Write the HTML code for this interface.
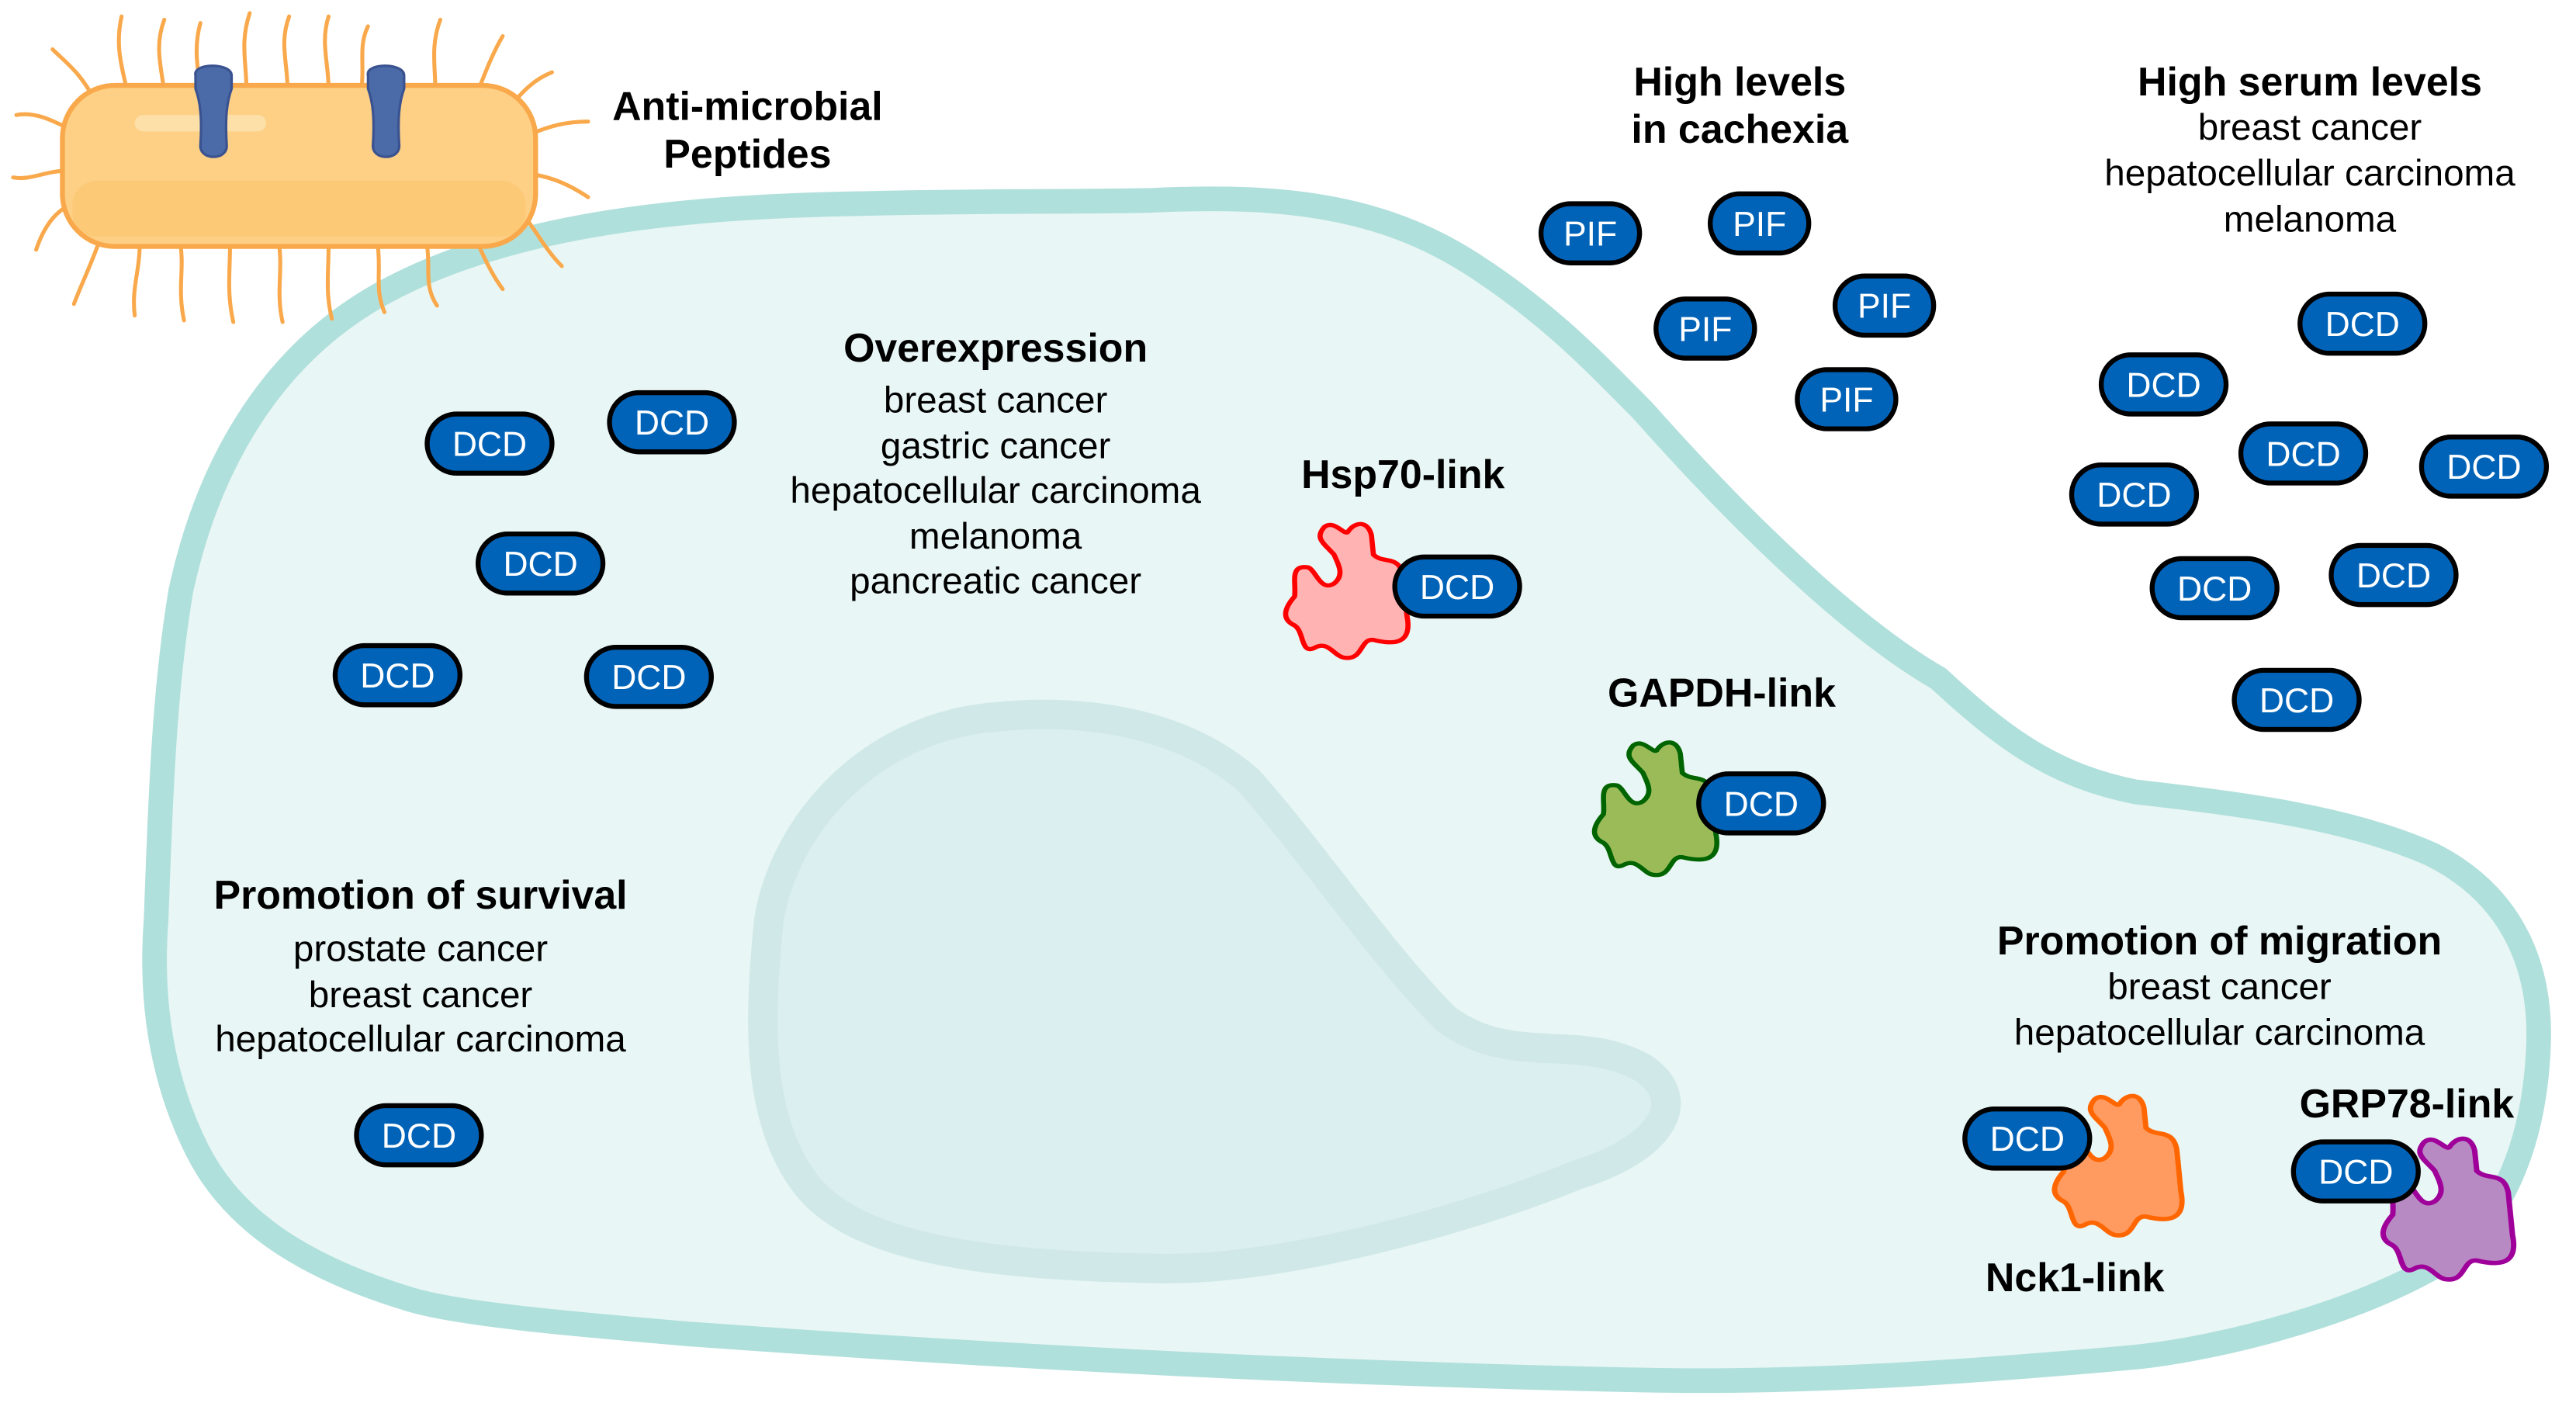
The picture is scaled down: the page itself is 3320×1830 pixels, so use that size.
<!DOCTYPE html>
<html><head><meta charset="utf-8"><style>
html,body{margin:0;padding:0;background:#fff}
svg{display:block}
text{font-family:"Liberation Sans",Arial,sans-serif}
.b{font-weight:bold;font-size:24.5px;fill:#000;text-anchor:middle}
.n{font-size:22.5px;fill:#000;text-anchor:middle}
.pill rect{fill:#0063b8;stroke:#000;stroke-width:3}
.pill text{fill:#fff;font-size:21px;text-anchor:middle}
.hair{fill:none;stroke:#f9a94b;stroke-width:2.4;stroke-linecap:round}
</style></head><body>
<svg width="3320" height="1830" viewBox="0 0 1568 864.3" preserveAspectRatio="none" xmlns="http://www.w3.org/2000/svg">
<defs>
<g id="dcd" class="pill"><rect x="-38" y="-18" width="76" height="36" rx="18"/><text x="0" y="7.5">DCD</text></g>
<g id="pif" class="pill"><rect x="-30" y="-18" width="60" height="36" rx="18"/><text x="0" y="7.5">PIF</text></g>
<path id="blob" d="M20,5 C25,0 30,10 32,8 C35,2 42,0 44,10 L45,22 C50,28 58,22 60,35 L62,60 C65,78 55,78 45,75 C38,74 40,88 30,86 C25,85 22,75 15,80 C8,84 10,70 5,66 C-2,62 0,55 5,48 C6,40 2,28 12,30 C16,32 18,45 25,40 C30,35 28,30 25,22 C20,15 15,12 20,5 Z"/>
</defs>

<!-- cell -->
<path d="M700,122 C780,118 840,125 895,160 C945,192 975,225 1000,250 C1080,340 1140,390 1180,413 C1220,450 1250,472 1300,482 C1370,490 1430,498 1480,520 C1530,545 1548,590 1545,640 C1542,700 1520,750 1480,772 C1420,805 1340,822 1300,826 C1200,835 1100,842 1000,840 C800,836 600,825 420,812 C350,806 280,800 250,791 C180,770 140,740 120,700 C95,650 92,600 95,560 C98,480 100,420 110,360 C125,290 160,220 230,180 C310,135 420,126 520,124 C600,122 650,123 700,122 Z" fill="#e8f6f5" stroke="#b0e0dc" stroke-width="15"/>
<!-- nucleus -->
<path d="M600,437 C660,430 720,440 760,475 C800,520 840,580 880,620 C920,650 960,628 1000,650 C1030,670 1010,700 960,715 C900,740 780,775 700,772 C600,770 520,760 490,720 C460,680 462,620 468,560 C478,500 530,445 600,437 Z" fill="#dbeff0" stroke="#d0e9e8" stroke-width="18"/>

<!-- bacterium -->
<g>
<path class="hair" d="M58,62 C50,45 40,38 32,30 M78,58 C74,40 70,28 74,10 M100,56 C98,40 94,28 100,12 M122,54 C120,40 118,28 122,14 M150,54 C150,38 146,26 152,8 M175,54 C175,38 170,26 176,10 M200,54 C200,38 195,26 200,10 M220,54 C222,40 218,28 224,16 M265,55 C265,40 262,28 268,12 M290,58 C295,45 300,32 306,22 M310,66 C318,55 326,48 336,44 M45,80 C30,72 20,68 10,70 M40,104 C28,104 18,110 8,108 M42,125 C32,130 26,140 22,152 M322,82 C336,76 346,74 358,74 M324,106 C336,108 346,112 358,120 M318,130 C326,140 332,152 342,162 M60,148 C55,162 50,172 45,185 M85,150 C85,165 80,175 82,192 M110,150 C112,165 108,176 112,195 M140,150 C140,166 138,178 142,196 M170,150 C172,166 168,178 172,196 M200,150 C200,166 198,178 202,194 M230,150 C232,166 228,176 234,190 M260,150 C262,164 258,174 266,186 M290,146 C295,158 300,168 306,176"/>
<rect x="38" y="52" width="288" height="98" rx="32" fill="#fdd085" stroke="#f9a94b" stroke-width="3"/>
<rect x="44" y="110" width="276" height="34" rx="15" fill="#fcc46e" opacity="0.6"/>
<rect x="82" y="70" width="80" height="10" rx="5" fill="#fde0a8"/>
<path d="M119,46 C117,38 141,38 141,46 L141,54 C138,62 137,72 138,88 C139,98 121,98 122,88 C123,72 122,62 119,54 Z" fill="#4a6aa8" stroke="#3a5290" stroke-width="1.5"/>
<path d="M224,46 C222,38 246,38 246,46 L246,54 C243,62 242,72 243,88 C244,98 226,98 227,88 C228,72 227,62 224,54 Z" fill="#4a6aa8" stroke="#3a5290" stroke-width="1.5"/>
</g>

<!-- blobs -->
<use href="#blob" transform="translate(782,316) scale(1.2,0.98)" fill="#ffb3b3" stroke="#ff0000" stroke-width="2.6"/>
<use href="#blob" transform="translate(970,449) scale(1.2,0.97)" fill="#9bbb59" stroke="#006400" stroke-width="2.6"/>
<use href="#blob" transform="translate(1250,664) scale(1.25,1.02)" fill="#ff9a60" stroke="#ff6600" stroke-width="2.6"/>
<use href="#blob" transform="translate(1450,690) scale(1.28,1.03)" fill="#b88ac4" stroke="#a0009a" stroke-width="2.6"/>

<!-- pills -->
<use href="#dcd" x="298" y="270"/><use href="#dcd" x="409" y="257"/><use href="#dcd" x="329" y="343"/>
<use href="#dcd" x="242" y="411"/><use href="#dcd" x="395" y="412"/><use href="#dcd" x="255" y="691"/>
<use href="#dcd" x="887" y="357"/><use href="#dcd" x="1072" y="489"/>
<use href="#dcd" x="1438" y="197"/><use href="#dcd" x="1317" y="234"/><use href="#dcd" x="1402" y="276"/>
<use href="#dcd" x="1512" y="284"/><use href="#dcd" x="1299" y="301"/><use href="#dcd" x="1348" y="358"/>
<use href="#dcd" x="1457" y="350"/><use href="#dcd" x="1398" y="426"/>
<use href="#dcd" x="1234" y="693"/><use href="#dcd" x="1434" y="713"/>
<use href="#pif" x="968" y="142"/><use href="#pif" x="1071" y="136"/><use href="#pif" x="1038" y="200"/>
<use href="#pif" x="1147" y="186"/><use href="#pif" x="1124" y="243"/>

<!-- text -->
<text class="b" x="455" y="73">Anti-microbial</text>
<text class="b" x="455" y="102">Peptides</text>
<text class="b" x="1059" y="58">High levels</text>
<text class="b" x="1059" y="87">in cachexia</text>
<text class="b" x="1406" y="58">High serum levels</text>
<text class="n" x="1406" y="85">breast cancer</text>
<text class="n" x="1406" y="113">hepatocellular carcinoma</text>
<text class="n" x="1406" y="141">melanoma</text>
<text class="b" x="606" y="220">Overexpression</text>
<text class="n" x="606" y="251">breast cancer</text>
<text class="n" x="606" y="279">gastric cancer</text>
<text class="n" x="606" y="306">hepatocellular carcinoma</text>
<text class="n" x="606" y="334">melanoma</text>
<text class="n" x="606" y="361">pancreatic cancer</text>
<text class="b" x="854" y="297">Hsp70-link</text>
<text class="b" x="1048" y="430">GAPDH-link</text>
<text class="b" x="256" y="553">Promotion of survival</text>
<text class="n" x="256" y="585">prostate cancer</text>
<text class="n" x="256" y="613">breast cancer</text>
<text class="n" x="256" y="640">hepatocellular carcinoma</text>
<text class="b" x="1351" y="581">Promotion of migration</text>
<text class="n" x="1351" y="608">breast cancer</text>
<text class="n" x="1351" y="636">hepatocellular carcinoma</text>
<text class="b" x="1465" y="680">GRP78-link</text>
<text class="b" x="1263" y="786">Nck1-link</text>
</svg>
</body></html>
